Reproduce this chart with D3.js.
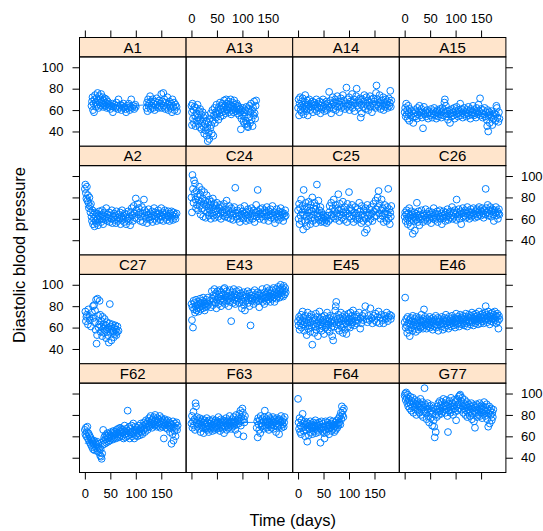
<!DOCTYPE html>
<html>
<head>
<meta charset="utf-8">
<script src="https://cdn.jsdelivr.net/npm/d3@7"></script>
<style>
  body { margin: 0; background: #fff; }
  text { font-family: "Liberation Sans", Arial, sans-serif; }
</style>
</head>
<body>
<div id="wrapper"></div>
<script>
// panel labels, in reading order (top-left first)
const panelNames = ["A1", "A13", "A14", "A15", "A2", "C24", "C25", "C26",
  "C27", "E43", "E45", "E46", "F62", "F63", "F64", "G77"];
const xTicks = [0, 50, 100, 150];
const yTicks = [40, 60, 80, 100];

// [day, diastolic bp]
const A1 = [[13,64],[14,68],[15,72],[16,60],[17,66],[18,58],[19,70],[20,74],[21,67],[22,63],[23,71],[24,65],[25,76],[26,69],[27,62],[28,73],[29,67],[30,70],[31,64],[32,75],[33,68],[34,66],[35,72],[36,63],[37,69],[38,65],[39,71],[40,67],[41,64],[42,70],[43,62],[44,66],[45,68],[46,63],[48,65],[50,61],[52,64],[54,66],[55,58],[56,63],[58,65],[60,62],[62,67],[63,64],[65,61],[66,70],[68,63],[70,65],[72,60],[73,64],[75,62],[76,66],[78,63],[80,61],[81,58],[83,64],[85,62],[86,66],[88,60],[90,63],[91,70],[93,62],[95,64],[97,61],[99,65],[100,63],
  [121,62],[122,67],[123,59],[124,70],[125,64],[126,66],[128,73],[129,61],[130,68],[131,64],[133,70],[134,62],[135,66],[137,60],[138,68],[139,65],[141,71],[142,63],[143,67],[145,62],[146,69],[147,64],[149,66],[150,75],[151,62],[152,68],[154,76],[155,64],[156,70],[158,61],[159,67],[160,63],[162,72],[163,65],[164,60],[166,68],[167,64],[168,62],[170,66],[171,58],[172,70],[174,63],[175,67],[176,60],[178,65],[180,63],[181,59]];
const A13 = [[0,64],[1,58],[1,46],[2,66],[3,52],[4,60],[5,48],[6,63],[7,55],[8,45],[9,62],[10,57],[11,50],[12,65],[13,53],[14,47],[15,59],[16,44],[17,61],[18,51],[19,56],[20,42],[21,49],[22,58],[23,45],[24,53],[25,38],[26,47],[27,55],[28,41],[29,50],[30,36],[31,44],[32,31],[33,48],[34,39],[35,33],[36,52],[37,43],[38,57],[39,46],[40,38],[41,60],[42,50],[43,36],[44,55],[45,62],[46,48],[47,58],[48,53],[49,65],[50,56],[52,60],[53,51],[54,63],[55,57],[56,67],[57,54],[58,61],[59,64],[60,58],[61,66],[62,55],[63,62],[64,69],[65,59],[66,64],[67,57],[68,70],[69,61],[70,66],[71,60],[72,63],[73,68],[74,58],[75,65],[76,62],[77,70],[78,56],[79,64],[80,60],[81,67],[82,58],[83,63],[84,69],[85,61],[86,65],[87,59],[88,62],[89,66],[90,57],[91,64],[92,60],[93,63],[94,55],[95,61],[96,58],[97,42],[98,52],[99,60],[100,56],[101,62],[102,49],[103,58],[104,54],[105,47],[106,60],[107,50],[108,63],[109,47],[110,45],[111,44],[112,61],[113,53],[114,64],[115,48],[116,58],[117,66],[118,51],[119,60],[120,45],[121,62],[122,55],[123,68],[124,57],[125,52],[126,64],[127,69]];
const A14 = [[0,62],[1,70],[2,55],[3,66],[4,72],[5,60],[6,64],[7,58],[8,68],[9,71],[10,63],[11,56],[12,65],[13,61],[14,74],[15,67],[16,59],[17,63],[18,69],[19,55],[20,65],[21,62],[22,70],[24,60],[25,66],[26,63],[28,68],[29,58],[30,64],[32,67],[33,61],[34,65],[36,70],[37,59],[38,63],[40,66],[41,62],[42,68],[44,57],[45,64],[46,61],[48,67],[49,70],[50,63],[52,59],[53,65],[54,62],[56,68],[57,60],[58,66],[60,64],[61,77],[62,62],[64,69],[65,57],[66,65],[68,72],[69,61],[70,67],[72,64],[73,70],[74,60],[76,66],[77,73],[78,63],[80,68],[81,58],[82,65],[84,71],[85,62],[86,67],[88,74],[89,64],[90,69],[92,61],[93,66],[95,81],[96,63],[97,70],[99,65],[100,72],[101,60],[103,68],[104,64],[106,75],[107,62],[108,67],[110,70],[111,59],[112,66],[114,73],[115,80],[116,64],[118,69],[119,62],[120,67],[122,71],[123,53],[124,65],[125,57],[126,70],[128,63],[129,68],[130,74],[132,61],[133,66],[134,72],[136,64],[137,69],[138,60],[140,67],[141,73],[142,63],[144,70],[145,58],[146,66],[148,71],[149,64],[150,68],[152,62],[153,76],[154,83],[155,65],[156,70],[158,63],[159,67],[160,74],[162,61],[163,66],[164,69],[166,64],[167,72],[168,60],[170,67],[171,63],[172,70],[174,65],[175,68],[176,62],[178,71],[179,64],[180,67],[181,78],[182,63],[183,69]];
const A15 = [[0,58],[1,62],[2,54],[3,66],[4,56],[5,60],[6,52],[7,64],[8,57],[9,50],[10,61],[12,55],[14,59],[16,53],[17,48],[18,57],[20,60],[21,54],[22,58],[24,52],[25,62],[26,56],[28,59],[29,64],[30,55],[32,58],[33,61],[34,53],[36,43],[37,57],[38,63],[40,56],[41,59],[42,54],[44,60],[45,57],[46,52],[48,58],[50,55],[52,61],[53,57],[54,53],[56,59],[57,56],[58,62],[60,55],[61,58],[62,52],[64,60],[65,57],[66,54],[68,59],[69,61],[70,56],[72,53],[73,58],[74,62],[76,55],[77,60],[78,67],[79,70],[80,57],[81,64],[82,54],[84,59],[85,51],[86,56],[88,60],[89,48],[90,57],[92,54],[93,61],[94,58],[96,55],[97,62],[98,52],[100,59],[101,56],[102,63],[104,57],[105,54],[106,60],[108,58],[109,66],[110,55],[112,61],[113,57],[114,53],[116,59],[117,62],[118,56],[120,58],[121,54],[122,60],[124,57],[125,63],[126,55],[128,59],[129,52],[130,61],[132,56],[133,58],[134,64],[136,55],[137,60],[138,57],[140,53],[141,62],[142,58],[144,56],[145,65],[146,59],[148,71],[149,55],[150,61],[152,57],[153,53],[154,60],[156,56],[157,62],[158,54],[160,58],[161,51],[162,45],[163,60],[164,40],[165,55],[166,58],[167,48],[168,56],[170,53],[171,59],[172,46],[174,55],[175,52],[176,57],[178,50],[179,56],[180,64],[181,62],[182,53],[184,49],[185,58],[186,52]];
const A2 = [[0,88],[1,92],[2,84],[3,79],[4,90],[5,77],[6,82],[7,75],[8,70],[9,80],[10,72],[11,66],[12,74],[13,62],[14,58],[15,68],[16,55],[17,64],[18,60],[19,53],[20,66],[21,58],[22,62],[23,56],[24,65],[25,60],[26,54],[27,63],[28,67],[29,59],[30,62],[32,57],[33,64],[34,68],[35,60],[36,55],[37,63],[38,66],[40,59],[41,62],[42,70],[44,58],[45,64],[46,61],[48,66],[49,57],[50,63],[52,60],[53,68],[54,56],[56,62],[57,65],[58,59],[60,63],[61,56],[62,67],[64,61],[65,58],[66,64],[68,60],[69,66],[70,55],[72,62],[73,68],[74,59],[76,63],[77,57],[78,65],[80,61],[81,55],[82,64],[84,60],[85,67],[86,58],[88,62],[89,54],[90,66],[92,70],[93,63],[94,58],[96,72],[97,65],[98,61],[100,79],[101,68],[102,60],[104,74],[105,64],[106,70],[108,66],[109,58],[110,62],[112,71],[113,65],[114,57],[116,78],[117,68],[118,63],[120,60],[121,66],[122,56],[124,64],[125,69],[126,61],[128,59],[129,65],[130,62],[132,67],[133,57],[134,63],[136,70],[137,60],[138,66],[140,62],[141,58],[142,64],[144,68],[145,61],[146,65],[148,59],[149,63],[150,70],[152,62],[153,66],[154,58],[156,64],[157,68],[158,61],[160,65],[161,59],[162,63],[164,67],[165,62],[166,58],[168,65],[169,61],[170,67],[172,63],[173,59],[174,66],[176,62],[177,64],[178,60],[180,65]];
const C24 = [[0,80],[1,66],[2,101],[3,88],[4,75],[5,96],[6,84],[7,93],[8,78],[9,70],[10,86],[11,73],[12,81],[13,68],[14,77],[15,90],[16,72],[17,83],[18,64],[19,76],[20,87],[21,70],[22,79],[23,62],[24,74],[25,85],[26,68],[27,77],[28,61],[29,72],[30,82],[31,66],[32,75],[33,70],[34,63],[35,78],[36,68],[37,73],[38,60],[39,76],[40,65],[41,71],[42,79],[43,63],[44,69],[45,74],[46,61],[47,67],[48,72],[49,64],[50,75],[52,68],[53,62],[54,70],[56,73],[57,65],[58,60],[60,71],[61,67],[62,63],[64,74],[65,66],[66,62],[68,69],[69,77],[70,64],[72,61],[73,68],[74,72],[76,65],[77,60],[78,70],[80,63],[81,67],[82,59],[84,71],[86,89],[87,65],[88,62],[90,68],[91,60],[92,66],[94,63],[95,57],[96,70],[98,64],[99,61],[100,67],[102,60],[103,65],[104,72],[106,63],[107,58],[108,66],[110,61],[111,69],[112,64],[114,59],[115,67],[116,62],[118,70],[119,65],[120,60],[122,68],[123,63],[124,57],[126,66],[127,73],[128,62],[130,87],[131,67],[132,64],[134,60],[135,69],[136,65],[138,62],[139,70],[140,66],[142,59],[143,64],[144,68],[146,62],[147,66],[148,71],[150,63],[151,58],[152,67],[154,64],[155,69],[156,61],[158,65],[159,72],[160,63],[162,60],[163,66],[164,56],[166,64],[167,69],[168,62],[170,65],[171,59],[172,67],[174,63],[175,70],[176,61],[178,66],[179,64],[180,58],[182,65],[183,62],[184,68],[185,63]];
const C25 = [[0,68],[1,60],[2,74],[3,55],[4,70],[5,63],[6,78],[7,58],[8,66],[9,72],[10,50],[11,87],[12,64],[13,69],[14,57],[15,75],[16,62],[17,53],[18,71],[19,66],[20,59],[21,76],[22,63],[23,68],[24,55],[25,73],[26,61],[27,67],[28,80],[29,58],[30,70],[31,64],[32,75],[33,60],[34,69],[35,56],[36,72],[37,92],[38,65],[39,62],[40,77],[41,59],[42,68],[43,63],[44,71],[45,57],[46,66],[47,61],[48,58],[49,64],[50,60],[52,57],[53,62],[54,59],[56,56],[57,61],[58,63],[60,58],[61,66],[62,72],[64,60],[65,75],[66,64],[68,70],[69,62],[70,78],[72,67],[73,60],[74,73],[76,65],[77,70],[78,62],[79,83],[80,68],[81,58],[82,74],[84,64],[85,69],[86,61],[88,76],[89,66],[90,59],[92,71],[93,63],[94,67],[96,57],[97,74],[98,65],[100,85],[101,62],[102,70],[104,60],[105,68],[106,73],[108,63],[109,57],[110,66],[112,71],[113,61],[114,65],[116,59],[117,69],[118,63],[120,75],[121,60],[122,67],[124,56],[125,72],[126,64],[128,58],[129,68],[130,62],[131,47],[132,70],[133,60],[134,66],[135,50],[136,73],[137,63],[138,57],[140,69],[141,64],[142,60],[144,71],[145,65],[146,58],[148,74],[149,67],[150,62],[152,77],[153,69],[154,63],[156,80],[157,71],[158,86],[159,65],[160,74],[162,60],[163,68],[164,78],[165,63],[166,70],[168,57],[169,65],[170,73],[171,61],[172,67],[174,58],[175,71],[176,64],[177,88],[178,60],[179,69],[180,55],[181,66],[182,62],[183,72]];
const C26 = [[0,62],[1,66],[2,58],[3,64],[4,68],[5,60],[6,55],[7,65],[8,61],[9,70],[10,57],[11,63],[12,53],[13,67],[14,60],[15,64],[16,46],[17,62],[18,58],[19,66],[20,49],[21,61],[22,65],[23,59],[24,75],[25,63],[26,57],[27,67],[28,61],[29,54],[30,64],[32,60],[33,68],[34,62],[36,57],[37,65],[38,63],[40,59],[41,69],[42,61],[44,65],[45,58],[46,63],[48,67],[49,60],[50,64],[52,56],[53,62],[54,66],[56,60],[57,70],[58,63],[60,59],[61,65],[62,61],[64,67],[65,57],[66,64],[68,62],[69,68],[70,60],[72,65],[73,55],[74,63],[76,67],[77,61],[78,64],[80,58],[81,66],[82,62],[84,69],[85,63],[86,59],[88,65],[89,61],[90,67],[92,63],[93,71],[94,60],[96,66],[97,62],[98,68],[100,64],[101,59],[102,78],[103,66],[104,62],[106,69],[107,64],[108,60],[110,67],[111,55],[112,65],[114,70],[115,62],[116,66],[118,63],[119,68],[120,61],[122,65],[123,71],[124,63],[126,67],[127,60],[128,64],[130,69],[131,62],[132,66],[134,63],[135,70],[136,65],[138,61],[139,67],[140,64],[142,69],[143,62],[144,66],[146,71],[147,64],[148,68],[150,63],[151,67],[152,70],[154,65],[155,61],[156,68],[158,64],[159,88],[160,70],[162,66],[163,73],[164,63],[166,68],[167,65],[168,71],[170,62],[171,67],[172,69],[174,64],[175,58],[176,68],[178,66],[179,71],[180,63],[182,67],[183,60],[184,65],[185,69],[186,64]];
const C27 = [[1,75],[2,66],[3,70],[4,72],[6,63],[7,77],[9,70],[10,67],[12,61],[14,74],[16,80],[17,69],[18,81],[19,65],[20,76],[21,58],[22,86],[23,45],[24,53],[25,87],[26,71],[27,60],[28,63],[29,85],[30,72],[31,56],[32,61],[33,66],[34,52],[35,70],[36,59],[37,63],[38,55],[39,68],[40,57],[41,62],[42,50],[43,65],[44,58],[45,53],[46,60],[47,46],[48,64],[49,82],[50,56],[51,61],[52,48],[53,59],[54,63],[55,55],[56,57],[57,51],[58,60],[59,54],[60,62],[61,58],[62,53],[63,56],[64,61],[66,57]];
const E43 = [[0,82],[1,67],[2,79],[3,60],[4,85],[5,77],[6,83],[7,74],[8,80],[9,86],[10,76],[11,81],[12,78],[13,84],[14,75],[15,82],[16,79],[17,87],[18,77],[19,83],[20,80],[21,85],[22,78],[23,88],[24,81],[25,84],[26,76],[27,82],[28,79],[29,86],[30,83],[31,80],[32,88],[34,82],[36,85],[38,79],[40,94],[41,87],[42,81],[43,90],[44,85],[45,96],[46,83],[47,89],[48,92],[49,78],[50,86],[51,94],[52,88],[53,82],[54,91],[55,95],[56,85],[57,89],[58,80],[59,93],[60,87],[61,84],[62,91],[63,96],[64,86],[65,97],[66,82],[67,90],[68,88],[69,94],[70,85],[71,89],[72,92],[73,80],[74,87],[75,95],[76,84],[77,90],[78,66],[79,88],[80,93],[81,83],[82,89],[83,96],[84,86],[85,91],[86,82],[87,88],[88,94],[89,85],[90,90],[92,87],[93,95],[94,83],[95,89],[96,92],[98,86],[99,78],[100,90],[101,84],[102,93],[103,81],[104,88],[105,76],[106,91],[107,85],[108,89],[110,94],[111,83],[112,87],[113,92],[114,80],[115,88],[116,62],[117,90],[118,85],[119,93],[120,87],[122,82],[123,89],[124,95],[125,86],[126,91],[127,84],[128,88],[130,93],[131,85],[132,90],[133,79],[134,87],[136,92],[137,86],[138,89],[139,96],[140,84],[141,90],[142,87],[143,82],[144,93],[145,88],[146,91],[147,85],[148,97],[149,89],[150,93],[151,86],[152,90],[153,95],[154,88],[155,84],[156,92],[157,89],[158,95],[159,87],[160,91],[161,97],[162,88],[163,84],[164,93],[165,90],[166,96],[167,87],[168,92],[169,89],[170,98],[171,91],[172,94],[173,88],[174,96],[175,100],[176,92],[177,90],[178,97],[179,94],[180,89],[181,99],[182,95],[183,91],[184,97],[185,93]];
const E45 = [[0,66],[1,62],[2,70],[3,58],[4,68],[5,64],[6,72],[7,60],[8,66],[9,75],[10,63],[11,69],[12,57],[13,65],[14,71],[15,61],[16,67],[17,53],[18,64],[19,74],[20,59],[21,68],[22,62],[23,70],[24,56],[25,65],[26,72],[27,60],[28,44],[29,66],[30,63],[31,69],[32,55],[33,67],[34,61],[35,73],[36,58],[37,64],[38,70],[39,52],[40,66],[41,62],[42,75],[43,59],[44,68],[45,63],[46,57],[47,70],[48,65],[49,61],[50,67],[51,54],[52,71],[53,64],[54,60],[55,68],[56,62],[57,74],[58,58],[59,66],[60,63],[61,69],[62,56],[63,71],[64,65],[65,60],[66,67],[67,52],[68,64],[69,48],[70,70],[71,61],[72,66],[73,76],[74,80],[75,84],[76,63],[77,68],[78,59],[79,72],[80,65],[81,57],[82,69],[83,62],[84,74],[85,66],[86,60],[87,70],[88,55],[89,67],[90,63],[91,72],[92,58],[93,68],[94,64],[95,54],[96,70],[97,66],[98,61],[99,73],[100,65],[101,68],[102,60],[103,74],[104,67],[105,63],[106,71],[107,65],[108,76],[110,62],[111,69],[112,66],[114,72],[115,64],[116,70],[118,67],[120,74],[122,59],[123,69],[124,64],[126,71],[128,67],[130,73],[132,80],[134,68],[136,65],[138,71],[140,67],[142,78],[144,69],[146,64],[148,71],[150,67],[152,73],[154,65],[156,70],[158,75],[160,64],[162,69],[164,72],[166,67],[168,64],[170,71],[172,68],[174,74],[176,66],[178,70],[180,72],[182,68],[183,71]];
const E46 = [[0,65],[1,88],[2,60],[3,68],[4,62],[5,55],[6,70],[7,64],[8,58],[9,67],[10,52],[11,63],[12,69],[13,60],[14,66],[15,57],[16,71],[17,62],[18,65],[19,59],[20,68],[21,63],[22,56],[23,70],[24,61],[25,66],[26,64],[27,58],[28,69],[29,62],[30,67],[31,60],[32,65],[33,72],[34,61],[35,66],[36,59],[37,68],[38,77],[39,63],[40,70],[41,62],[42,66],[43,59],[44,68],[45,64],[46,61],[47,67],[48,63],[49,70],[50,60],[51,65],[52,68],[53,62],[54,66],[55,58],[56,69],[57,64],[58,61],[59,67],[60,63],[61,71],[62,60],[63,66],[64,62],[65,69],[66,57],[67,65],[68,68],[69,63],[70,66],[72,61],[73,70],[74,64],[75,58],[76,67],[77,63],[78,69],[79,60],[80,66],[81,72],[82,64],[83,68],[84,62],[85,66],[86,59],[87,70],[88,65],[89,63],[90,68],[91,61],[92,66],[93,71],[94,64],[95,67],[96,62],[97,69],[98,65],[99,60],[100,68],[101,73],[102,66],[103,63],[104,70],[105,64],[106,68],[107,61],[108,67],[109,72],[110,65],[111,69],[112,63],[113,67],[114,71],[115,64],[116,68],[117,62],[118,70],[119,66],[120,73],[121,64],[122,68],[123,61],[124,70],[125,66],[126,72],[127,65],[128,69],[129,63],[130,71],[131,67],[132,74],[133,65],[134,69],[135,62],[136,72],[137,67],[138,70],[139,64],[140,73],[141,68],[142,66],[143,71],[144,63],[145,69],[146,75],[147,67],[148,70],[149,64],[150,72],[151,68],[152,66],[153,73],[154,69],[155,64],[156,71],[157,67],[158,74],[159,80],[160,68],[161,72],[162,65],[163,70],[164,75],[165,67],[166,71],[167,63],[168,69],[169,73],[170,66],[171,70],[172,74],[173,68],[174,65],[175,72],[176,69],[177,75],[178,67],[179,71],[180,64],[181,70],[182,73],[183,66],[184,59],[185,71],[186,68]];
const F62 = [[0,66],[1,62],[2,68],[3,60],[4,64],[5,69],[6,58],[7,63],[8,56],[9,61],[10,54],[11,59],[12,52],[13,57],[14,50],[15,55],[16,48],[17,53],[18,56],[19,47],[20,51],[21,54],[22,49],[23,52],[24,55],[25,46],[26,50],[27,53],[28,45],[29,49],[30,42],[31,48],[32,41],[33,39],[34,44],[35,52],[36,66],[37,56],[38,59],[39,53],[40,61],[41,57],[42,54],[43,60],[44,63],[45,58],[46,55],[47,62],[48,59],[49,56],[50,61],[51,64],[52,58],[53,60],[54,63],[55,57],[56,65],[57,61],[58,59],[59,64],[60,62],[61,58],[62,66],[63,63],[64,60],[65,67],[66,62],[67,59],[68,65],[69,68],[70,61],[71,64],[72,67],[73,60],[74,63],[75,66],[76,58],[77,64],[78,70],[79,62],[80,59],[81,67],[82,63],[83,60],[84,84],[85,65],[86,61],[87,69],[88,58],[89,64],[90,67],[91,62],[92,70],[93,60],[94,65],[95,72],[96,63],[97,58],[98,66],[99,69],[100,61],[101,64],[102,68],[103,60],[104,66],[105,63],[106,70],[107,65],[108,61],[109,67],[110,72],[111,64],[112,68],[113,62],[114,70],[115,66],[116,73],[117,67],[118,64],[119,71],[120,75],[121,68],[122,72],[123,66],[124,74],[125,70],[126,77],[127,69],[128,73],[129,79],[130,71],[131,75],[132,68],[133,76],[134,72],[135,78],[136,70],[137,74],[138,80],[139,71],[140,75],[141,69],[142,77],[143,73],[144,70],[145,76],[146,72],[147,79],[148,68],[149,74],[150,71],[151,77],[152,69],[153,75],[154,73],[155,58],[156,70],[157,76],[158,72],[159,68],[160,74],[161,71],[162,67],[163,75],[164,70],[165,73],[166,69],[167,64],[168,72],[169,68],[170,53],[171,71],[172,62],[173,74],[174,56],[175,69],[176,65],[177,72],[178,60],[179,68],[180,73],[181,66],[182,70]];
const F63 = [[0,72],[1,79],[2,68],[3,74],[4,83],[5,70],[6,76],[7,66],[8,91],[9,88],[10,73],[11,78],[12,69],[13,75],[14,71],[15,67],[16,77],[17,72],[18,64],[19,74],[20,70],[21,76],[22,68],[23,73],[24,63],[25,71],[26,75],[27,67],[28,72],[29,69],[30,77],[31,66],[32,73],[33,70],[34,64],[35,75],[36,68],[37,72],[38,67],[39,74],[40,70],[41,65],[42,76],[43,71],[44,68],[45,73],[46,66],[47,75],[48,69],[49,72],[50,67],[51,74],[52,70],[53,78],[54,68],[55,73],[56,65],[57,71],[58,76],[59,69],[60,73],[61,67],[62,75],[63,70],[64,63],[65,74],[66,69],[67,72],[68,77],[69,66],[70,73],[71,70],[72,75],[73,68],[74,72],[75,79],[76,70],[77,74],[78,67],[79,73],[80,76],[81,69],[82,72],[83,78],[84,70],[85,74],[86,66],[87,73],[88,80],[89,71],[90,75],[91,62],[92,77],[93,72],[94,81],[95,74],[96,84],[97,70],[98,78],[99,75],[100,86],[101,82],[102,60],[103,76],[104,73],[105,79],
  [128,68],[129,74],[130,59],[131,77],[132,71],[133,66],[134,75],[135,63],[136,79],[137,72],[138,69],[139,76],[140,70],[141,74],[142,67],[143,78],[144,84],[145,73],[146,70],[147,76],[148,68],[149,74],[150,71],[151,79],[152,66],[153,73],[154,77],[155,70],[156,75],[157,68],[158,74],[159,71],[160,78],[161,67],[162,73],[163,76],[164,70],[165,74],[166,64],[167,72],[168,77],[169,69],[170,75],[171,71],[172,62],[173,76],[174,70],[175,73],[176,79],[177,68],[178,74],[179,71],[180,76],[181,69],[182,73],[183,78]];
const F64 = [[0,95],[1,73],[2,67],[3,77],[4,64],[5,70],[6,62],[7,75],[8,68],[9,81],[10,72],[11,65],[12,69],[13,74],[14,60],[15,71],[16,66],[17,73],[18,55],[19,68],[20,72],[21,61],[22,70],[23,67],[24,74],[25,64],[26,69],[27,71],[28,62],[29,68],[30,73],[31,65],[32,70],[33,67],[34,75],[35,63],[36,69],[37,72],[38,66],[39,70],[40,64],[41,73],[42,68],[43,71],[44,54],[45,67],[46,74],[47,69],[48,65],[49,72],[50,68],[51,63],[52,58],[53,66],[54,74],[55,70],[56,64],[57,69],[58,73],[59,67],[60,71],[61,62],[62,70],[63,75],[64,68],[65,72],[66,65],[67,70],[68,74],[69,67],[70,71],[71,64],[72,69],[73,73],[74,66],[75,71],[76,75],[77,68],[78,72],[79,70],[80,77],[81,73],[82,79],[83,71],[84,82],[85,76],[86,88],[87,80],[88,84],[89,78],[90,86]];
const G77 = [[0,98],[1,100],[2,94],[3,101],[4,96],[5,91],[6,99],[7,88],[8,95],[9,92],[10,86],[11,97],[12,90],[13,84],[14,93],[15,88],[16,96],[17,82],[18,91],[19,87],[20,94],[21,85],[22,90],[23,80],[24,89],[25,93],[26,84],[27,88],[28,91],[29,82],[30,87],[31,95],[32,80],[33,89],[34,85],[35,92],[36,78],[37,87],[38,83],[39,105],[40,90],[41,82],[42,88],[43,76],[44,85],[45,91],[46,79],[47,86],[48,73],[49,88],[50,82],[51,77],[52,89],[53,84],[54,70],[55,81],[56,86],[57,75],[58,69],[59,59],[60,80],[61,64],[62,85],[63,78],[64,88],[65,83],[66,91],[67,80],[68,86],[69,93],[70,84],[71,89],[72,81],[73,92],[74,87],[75,83],[76,95],[77,88],[78,85],[79,91],[80,82],[81,89],[82,94],[83,86],[84,79],[85,64],[86,90],[87,84],[88,93],[89,87],[90,82],[91,96],[92,88],[93,85],[94,91],[95,80],[96,89],[97,94],[98,86],[99,83],[100,92],[101,75],[102,88],[103,95],[104,84],[105,90],[106,97],[107,86],[108,98],[109,99],[110,89],[111,93],[112,85],[113,96],[114,88],[115,82],[116,91],[117,86],[118,94],[119,80],[120,89],[121,84],[122,92],[123,78],[124,87],[125,82],[126,90],[127,85],[128,79],[129,88],[130,83],[131,91],[132,76],[133,86],[134,81],[135,89],[136,74],[137,84],[138,68],[139,87],[140,82],[141,90],[142,78],[143,85],[144,88],[145,80],[146,84],[147,91],[148,79],[149,86],[150,82],[151,89],[152,77],[153,85],[154,88],[155,81],[156,92],[157,84],[158,79],[159,87],[160,83],[161,90],[162,76],[163,85],[164,69],[165,81],[166,88],[167,72],[168,84],[169,80],[170,86],[171,75],[172,82],[173,78],[174,85]];

const panelData = [A1, A13, A14, A15, A2, C24, C25, C26, C27, E43, E45, E46, F62, F63, F64, G77];

//* dimensions
const width = 543;
const height = 531;
const layout = { left: 79.5, top: 37.5, colW: 106.6, rowH: 108.75, stripH: 19.4 };
const xDomain = [-10.5, 198.7];
const yDomain = [26.2, 109.7];
const pointColor = "#0080ff";

const svg = d3.select("#wrapper").append("svg")
  .attr("width", width)
  .attr("height", height);

// local linear fit with tricube weights (lattice's default smoother style)
function loessCurve(points, span = 2 / 3) {
  const xs = points.map((d) => d[0]);
  const ys = points.map((d) => d[1]);
  const q = Math.max(3, Math.floor(xs.length * span));
  const [lo, hi] = d3.extent(xs);
  return d3.range(100).map((k) => {
    const x0 = lo + ((hi - lo) * k) / 99;
    const dists = xs.map((x) => Math.abs(x - x0));
    const h = dists.slice().sort((a, b) => a - b)[q - 1] * 1.0001;
    let sw = 0, sx = 0, sy = 0, sxx = 0, sxy = 0;
    xs.forEach((x, i) => {
      const u = dists[i] / h;
      if (u >= 1) return;
      const w = Math.pow(1 - u * u * u, 3);
      sw += w; sx += w * x; sy += w * ys[i];
      sxx += w * x * x; sxy += w * x * ys[i];
    });
    const mx = sx / sw, my = sy / sw;
    const vx = sxx / sw - mx * mx;
    const b = vx > 1e-9 ? (sxy / sw - mx * my) / vx : 0;
    return [x0, my + b * (x0 - mx)];
  });
}

function styleAxis(g) {
  g.select(".domain").remove();
  g.selectAll(".tick line").attr("stroke", "#000");
  g.selectAll(".tick text")
    .attr("fill", "#000")
    .style("font-size", "13px")
    .style("font-family", '"Liberation Sans", Arial, sans-serif');
}

panelNames.forEach((name, i) => {
  const col = i % 4;
  const row = Math.floor(i / 4);
  const x0 = layout.left + col * layout.colW;
  const top = layout.top + row * layout.rowH;
  const panelTop = top + layout.stripH;
  const panelBottom = top + layout.rowH;

  const xScale = d3.scaleLinear().domain(xDomain).range([x0, x0 + layout.colW]);
  const yScale = d3.scaleLinear().domain(yDomain).range([panelBottom, panelTop]);

  const g = svg.append("g");

  // strip
  g.append("rect")
    .attr("x", x0).attr("y", top)
    .attr("width", layout.colW).attr("height", layout.stripH)
    .attr("fill", "#ffe5cc")
    .attr("stroke", "#000").attr("stroke-width", 1);
  g.append("text")
    .attr("x", x0 + layout.colW / 2)
    .attr("y", top + layout.stripH / 2)
    .attr("dy", "0.36em")
    .attr("text-anchor", "middle")
    .style("font-size", "15px")
    .text(name);

  // data
  const data = panelData[i];
  g.append("g").selectAll("circle")
    .data(data)
    .join("circle")
    .attr("cx", (d) => xScale(d[0]))
    .attr("cy", (d) => yScale(d[1]))
    .attr("r", 3.4)
    .attr("fill", "none")
    .attr("stroke", pointColor)
    .attr("stroke-width", 1);

  const line = d3.line().x((d) => xScale(d[0])).y((d) => yScale(d[1]));
  g.append("path")
    .attr("d", line(loessCurve(data)))
    .attr("fill", "none")
    .attr("stroke", pointColor)
    .attr("stroke-width", 1);

  // panel border
  g.append("rect")
    .attr("x", x0).attr("y", panelTop)
    .attr("width", layout.colW).attr("height", panelBottom - panelTop)
    .attr("fill", "none")
    .attr("stroke", "#000").attr("stroke-width", 1);

  // axes, alternating labels like lattice
  if (row === 0) {
    const ax = d3.axisTop(xScale).tickValues(xTicks).tickSize(7).tickPadding(8);
    if (col % 2 === 0) ax.tickFormat("");
    svg.append("g").attr("transform", `translate(0,${top})`).call(ax).call(styleAxis);
  }
  if (row === 3) {
    const ax = d3.axisBottom(xScale).tickValues(xTicks).tickSize(7).tickPadding(9);
    if (col % 2 === 1) ax.tickFormat("");
    svg.append("g").attr("transform", `translate(0,${panelBottom})`).call(ax).call(styleAxis);
  }
  if (col === 0) {
    const ax = d3.axisLeft(yScale).tickValues(yTicks).tickSize(7).tickPadding(9);
    if (row % 2 === 1) ax.tickFormat("");
    svg.append("g").attr("transform", `translate(${x0},0)`).call(ax).call(styleAxis);
  }
  if (col === 3) {
    const ax = d3.axisRight(yScale).tickValues(yTicks).tickSize(7).tickPadding(8);
    if (row % 2 === 0) ax.tickFormat("");
    svg.append("g").attr("transform", `translate(${x0 + layout.colW},0)`).call(ax).call(styleAxis);
  }
});

// axis titles
svg.append("text")
  .attr("x", layout.left + 2 * layout.colW)
  .attr("y", 526)
  .attr("text-anchor", "middle")
  .style("font-size", "16.5px")
  .text("Time (days)");

svg.append("text")
  .attr("transform", `translate(25,${layout.top + 2 * layout.rowH}) rotate(-90)`)
  .attr("text-anchor", "middle")
  .style("font-size", "16.5px")
  .text("Diastolic blood pressure");
</script>
</body>
</html>
